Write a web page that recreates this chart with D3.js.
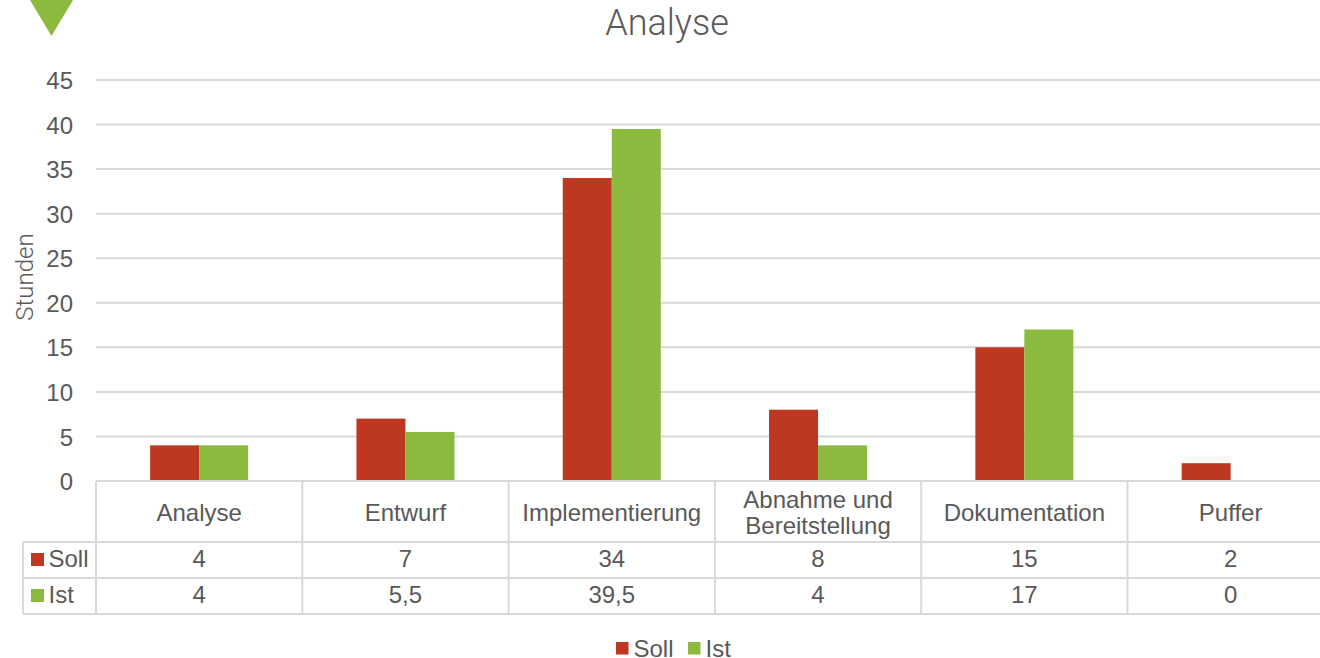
<!DOCTYPE html>
<html><head><meta charset="utf-8">
<script src="https://cdn.jsdelivr.net/npm/d3@7"></script>
<style>
html,body{margin:0;padding:0;background:#fff;}
svg{display:block;}
text{font-family:"Liberation Sans",Arial,sans-serif;fill:#595959;}
</style></head>
<body><svg id="c" width="1320" height="658"></svg>
<script>
const categories = ["Analyse","Entwurf","Implementierung","Abnahme und Bereitstellung","Dokumentation","Puffer"];
const categoryLines = [["Analyse"],["Entwurf"],["Implementierung"],["Abnahme und","Bereitstellung"],["Dokumentation"],["Puffer"]];
const sollValues = [4,7,34,8,15,2];
const istValues = [4,5.5,39.5,4,17,0];
const seriesNames = ["Soll","Ist"];
const yTicks = [0,5,10,15,20,25,30,35,40,45];
const colors = {Soll:"#BE3720", Ist:"#8BBA3E"};

(function(){
const svg = d3.select("#c");
const gridColor = "#D9D9D9";
const fs = "24px";
const fmt = v => String(v).replace(".", ",");

const pLeft = 96, pRight = 1333.8, pTop = 80, pBottom = 481;
const x = d3.scaleBand().domain(categories).range([pLeft, pRight]).paddingInner(0).paddingOuter(0);
const x1 = d3.scaleBand().domain(seriesNames).range([0, x.bandwidth()]).paddingInner(0).paddingOuter(1.105);
const y = d3.scaleLinear().domain([0,45]).range([pBottom, pTop]);

// corner triangle
svg.append("path").attr("d","M30,0 L73,0 L51.5,36 Z").attr("fill","#8BBA3E");

// title
svg.append("text").attr("x",667).attr("y",35).attr("text-anchor","middle")
  .style("font-family","Roboto, 'Open Sans', sans-serif").style("font-weight","300")
  .style("font-size","36px").text("Analyse");

// y axis title
svg.append("text").attr("transform","translate(33,277) rotate(-90)").attr("text-anchor","middle")
  .style("font-family","Roboto, 'Open Sans', sans-serif").style("font-weight","300")
  .style("font-size","24px").text("Stunden");

// gridlines
svg.append("g").selectAll("line").data(yTicks.filter(t=>t>0)).join("line")
  .attr("x1",pLeft).attr("x2",1320).attr("y1",d=>y(d)).attr("y2",d=>y(d))
  .attr("stroke",gridColor).attr("stroke-width",2);

// y axis labels
const ya = svg.append("g").attr("transform",`translate(${pLeft},0)`)
  .call(d3.axisLeft(y).tickValues(yTicks).tickSize(0).tickPadding(23));
ya.select(".domain").remove();
ya.selectAll("text").style("font-size",fs).attr("fill","#595959").attr("dy","0.36em")
  .style("font-family","'Liberation Sans',Arial,sans-serif");

// bars
const rows = categories.map((c,i)=>({cat:c, vals:[{s:"Soll",v:sollValues[i]},{s:"Ist",v:istValues[i]}]}));
const g = svg.append("g").selectAll("g").data(rows).join("g")
  .attr("transform",d=>`translate(${x(d.cat)},0)`);
g.selectAll("rect").data(d=>d.vals).join("rect")
  .attr("x",d=>x1(d.s)).attr("width",x1.bandwidth())
  .attr("y",d=>y(d.v)).attr("height",d=>y(0)-y(d.v))
  .attr("fill",d=>colors[d.s]);

// data table
const labelLeft = 23;
const t = svg.append("g");
t.append("line").attr("x1",pLeft).attr("x2",1320).attr("y1",pBottom).attr("y2",pBottom).attr("stroke",gridColor).attr("stroke-width",2);
[542,578,614].forEach(yy=>{
  t.append("line").attr("x1",labelLeft).attr("x2",1320).attr("y1",yy).attr("y2",yy).attr("stroke",gridColor).attr("stroke-width",2);
});
categories.forEach(c=>{
  t.append("line").attr("x1",x(c)).attr("x2",x(c)).attr("y1",pBottom).attr("y2",614).attr("stroke",gridColor).attr("stroke-width",2);
});
t.append("line").attr("x1",labelLeft).attr("x2",labelLeft).attr("y1",542).attr("y2",614).attr("stroke",gridColor).attr("stroke-width",2);

categories.forEach((c,i)=>{
  const lines = categoryLines[i];
  const cx = x(c)+x.bandwidth()/2;
  const base = 520.5;
  const lh = 26;
  lines.forEach((ln,j)=>{
    t.append("text").attr("x",cx).attr("y",base + (j-(lines.length-1)/2)*lh)
      .attr("text-anchor","middle").style("font-size",fs).text(ln);
  });
});
const rowBase = [567, 603];
[sollValues, istValues].forEach((vals,r)=>{
  const b = rowBase[r];
  vals.forEach((v,i)=>{
    t.append("text").attr("x",x(categories[i])+x.bandwidth()/2).attr("y",b)
      .attr("text-anchor","middle").style("font-size",fs).text(fmt(v));
  });
  t.append("rect").attr("x",31).attr("y",b-14).attr("width",13).attr("height",13).attr("fill",colors[seriesNames[r]]);
  t.append("text").attr("x",48.5).attr("y",b).style("font-size",fs).text(seriesNames[r]);
});

// legend
const lg = svg.append("g");
const legendItems = [{s:"Soll",x:616},{s:"Ist",x:688}];
legendItems.forEach(d=>{
  lg.append("rect").attr("x",d.x).attr("y",642).attr("width",12.5).attr("height",12.5).attr("fill",colors[d.s]);
  lg.append("text").attr("x",d.x+17.5).attr("y",656.5).style("font-size",fs).text(d.s);
});
})();
</script></body></html>
